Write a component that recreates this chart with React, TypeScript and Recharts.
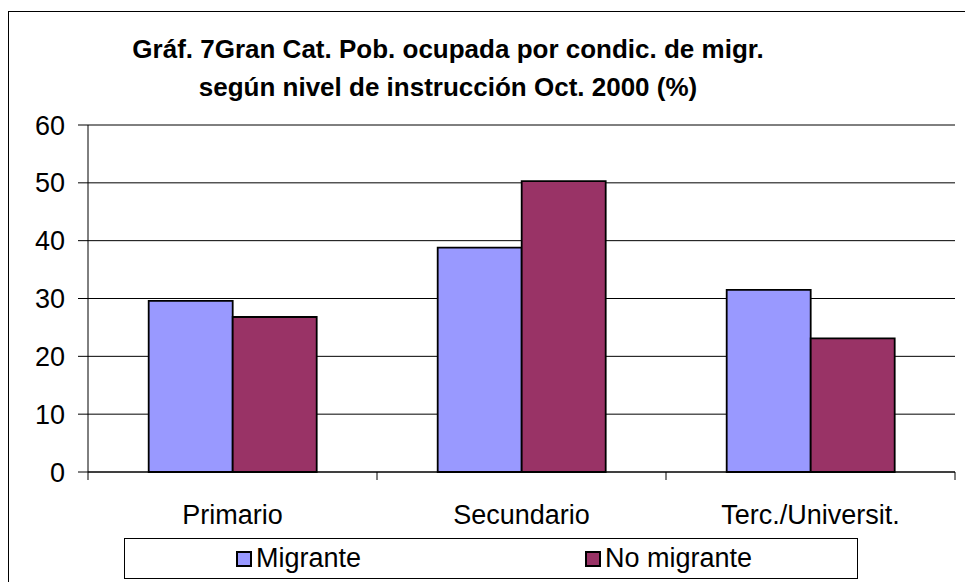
import { Bar, BarChart, CartesianGrid, XAxis, YAxis } from 'recharts';

const categories = ['Primario', 'Secundario', 'Terc./Universit.'];
const migrante = [29.6, 38.8, 31.5];
const noMigrante = [26.8, 50.3, 23.1];
const yTicks = [0, 10, 20, 30, 40, 50, 60];

const series = [
    { key: 'migrante', name: 'Migrante', color: '#9999FF' },
    { key: 'noMigrante', name: 'No migrante', color: '#993366' },
];

const data = categories.map((cat, i) => ({
    cat,
    migrante: migrante[i],
    noMigrante: noMigrante[i],
}));

const W = 965;
const H = 582;
const margin = { top: 125, right: 10, bottom: 80, left: 8 };
const Y_AXIS_W = 80;
const X_AXIS_H = 30;
const band = (W - margin.left - Y_AXIS_W - margin.right) / categories.length;
const FONT = '"Liberation Sans", Arial, sans-serif';

const CategoryTick = (props: any) => {
    const { x, y, payload, index } = props;
    const left = x - band / 2;
    const right = x + band / 2;
    return (
        <g>
            <line x1={left} y1={y} x2={left} y2={y + 8} stroke="#000" />
            {index === categories.length - 1 && (
                <line x1={right} y1={y} x2={right} y2={y + 8} stroke="#000" />
            )}
            <text x={x} y={y + 52} textAnchor="middle" fill="#000" fontSize={27} fontFamily={FONT}>
                {payload.value}
            </text>
        </g>
    );
};

const App = () => {
    return (
        <div style={{ position: 'absolute', left: 0, top: 0, width: W, height: H, overflow: 'hidden', background: '#fff', fontFamily: FONT }}>
            <div
                style={{
                    position: 'absolute',
                    left: 8,
                    top: 11,
                    width: W - 8,
                    height: H - 11,
                    borderTop: '1px solid #000',
                    borderLeft: '1px solid #000',
                    boxSizing: 'border-box',
                }}
            />
            <div
                style={{
                    position: 'absolute',
                    left: 0,
                    top: 30,
                    width: 896,
                    textAlign: 'center',
                    fontWeight: 'bold',
                    fontSize: 26,
                    lineHeight: '38px',
                    color: '#000',
                }}
            >
                Gráf. 7Gran Cat. Pob. ocupada por condic. de migr.
                <br />
                según nivel de instrucción Oct. 2000 (%)
            </div>
            <div style={{ position: 'absolute', left: 0, top: 0 }}>
                <BarChart width={W} height={H} data={data} margin={margin} barGap={0} barCategoryGap="21%">
                    <CartesianGrid horizontal vertical={false} stroke="#000" strokeOpacity={1} />
                    <XAxis
                        dataKey="cat"
                        height={X_AXIS_H}
                        axisLine={{ stroke: '#000' }}
                        tickLine={false}
                        tickSize={0}
                        tickMargin={0}
                        interval={0}
                        tick={<CategoryTick />}
                    />
                    <XAxis xAxisId="top" orientation="top" dataKey="cat" height={0} tick={false} tickLine={false} axisLine={{ stroke: '#808080', strokeWidth: 2 }} />
                    <YAxis
                        width={Y_AXIS_W}
                        domain={[0, 60]}
                        ticks={yTicks}
                        interval={0}
                        axisLine={{ stroke: '#000' }}
                        tickLine={{ stroke: '#000' }}
                        tickSize={10}
                        tickMargin={13}
                        tick={{ fill: '#000', fontSize: 27, fontFamily: FONT }}
                    />
                    <YAxis yAxisId="right" orientation="right" width={0} domain={[0, 60]} tick={false} tickLine={false} axisLine={{ stroke: '#808080', strokeWidth: 2 }} />
                    {series.map((s) => (
                        <Bar
                            key={s.key}
                            dataKey={s.key}
                            name={s.name}
                            fill={s.color}
                            stroke="#000"
                            strokeWidth={1.8}
                            isAnimationActive={false}
                        />
                    ))}
                </BarChart>
            </div>
            <div
                style={{
                    position: 'absolute',
                    left: 124,
                    top: 538,
                    width: 734,
                    height: 41,
                    border: '1px solid #000',
                    boxSizing: 'border-box',
                    display: 'flex',
                    alignItems: 'center',
                    justifyContent: 'center',
                    gap: 224,
                    paddingLeft: 6,
                    background: '#fff',
                }}
            >
                {series.map((s) => (
                    <div key={s.key} style={{ display: 'flex', alignItems: 'center', fontSize: 27, color: '#000' }}>
                        <span
                            style={{
                                display: 'inline-block',
                                width: 16,
                                height: 16,
                                background: s.color,
                                border: '2px solid #000',
                                boxSizing: 'border-box',
                                marginRight: 4,
                            }}
                        />
                        {s.name}
                    </div>
                ))}
            </div>
        </div>
    );
};

export default App;
